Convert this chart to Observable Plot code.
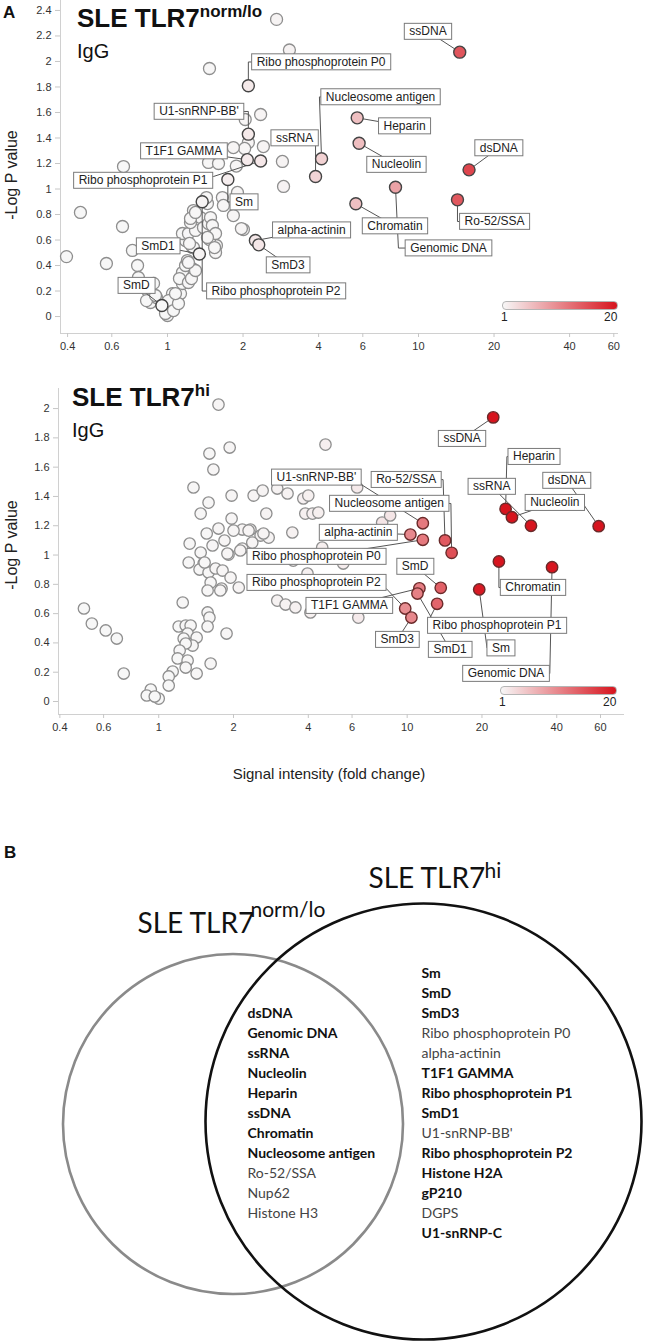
<!DOCTYPE html>
<html><head><meta charset="utf-8">
<script src="https://cdn.jsdelivr.net/npm/d3@7"></script>
<script src="https://cdn.jsdelivr.net/npm/@observablehq/plot@0.6"></script>
<style>
body{margin:0;background:#fff;}
#page{position:relative;width:646px;height:1341px;overflow:hidden;font-family:"Liberation Sans",Arial,sans-serif;color:#111;}
.host{position:absolute;left:0;width:646px;}
.abs{position:absolute;white-space:nowrap;line-height:1;}
.host svg [aria-label^="x-axis"] line,.host svg [aria-label^="y-axis"] line,
.host svg g[aria-label="x-axis tick"],.host svg g[aria-label="y-axis tick"]{stroke:#c6c6c6;}
.bar{position:absolute;height:7px;border:1px solid #b5b5b5;border-radius:4px;}
</style></head><body><div id="page"></div>
<script>
// ---------------- DATA ----------------
const xTicks = [0.4, 0.6, 1, 2, 4, 6, 10, 20, 40, 60];
const topYTicks = [0, 0.2, 0.4, 0.6, 0.8, 1, 1.2, 1.4, 1.6, 1.8, 2, 2.2, 2.4];
const bottomYTicks = [0, 0.2, 0.4, 0.6, 0.8, 1, 1.2, 1.4, 1.6, 1.8, 2];
const colorDomain = [1, 20];

// Panel A top: SLE TLR7 norm/lo, labelled antigens
const topNames = ["Ribo phosphoprotein P0","U1-snRNP-BB'","T1F1 GAMMA","Ribo phosphoprotein P1","Sm","Ribo phosphoprotein P2","SmD1","SmD","alpha-actinin","SmD3","ssRNA","Nucleosome antigen","Heparin","Nucleolin","Chromatin","Genomic DNA","dsDNA","Ro-52/SSA","ssDNA"];
const topFold = [2.10, 2.10, 2.08, 2.35, 1.74, 1.375, 1.34, 0.95, 2.24, 2.31, 3.89, 4.11, 5.70, 5.80, 5.63, 8.10, 15.9, 14.3, 14.6];
const topLogP = [1.81, 1.43, 1.23, 1.22, 1.075, 0.90, 0.49, 0.086, 0.596, 0.562, 1.098, 1.237, 1.558, 1.359, 0.884, 1.014, 1.15, 0.915, 2.073];
// other antigens
const topOtherFold = [2.72,3.06,1.47,2.35,2.04,2.10,2.03,2.41,2.87,2.90,1.457,1.597,0.668,0.45,0.396,0.571,0.662,0.725,0.76,0.766,0.832,0.855,0.904,1.0,1.047,1.096,1.127,1.047,1.147,1.201,1.258,1.147,1.18,1.116,1.201,1.258,1.18,1.147,1.212,1.293,1.354,1.269,1.235,1.391,1.457,1.525,1.567,1.47,1.554,1.443,1.43,1.484,1.51,1.655,1.67,1.83,2.007,1.90,1.97,0.825,0.896,1.009,0.982,1.057,1.106,1.076,1.212,1.246,1.293,1.212,1.269,1.224,1.235,1.293,1.554,1.54,1.443,0.88,1.83,1.88];
const topOtherLogP = [2.33,2.09,1.945,1.584,1.545,1.365,1.318,1.333,1.216,1.02,1.208,1.20,1.176,0.816,0.47,0.416,0.706,0.518,0.40,0.306,0.204,0.11,0.149,0.008,0.047,0.11,0.18,0.18,0.259,0.337,0.376,0.345,0.40,0.298,0.439,0.541,0.596,0.651,0.651,0.675,0.776,0.831,0.737,0.698,0.729,0.651,0.557,0.604,0.502,0.886,0.933,0.776,0.714,0.933,0.871,0.792,0.682,0.973,0.69,0.125,0.165,0.125,0.024,0.047,0.102,0.18,0.267,0.298,0.361,0.424,0.541,0.573,0.769,0.816,0.651,0.541,0.62,0.26,1.325,1.18];

// Panel A bottom: SLE TLR7 hi, labelled antigens
const bottomNames = ["ssDNA","Heparin","Nucleolin","ssRNA","dsDNA","Ro-52/SSA","Nucleosome antigen","U1-snRNP-BB'","alpha-actinin","Ribo phosphoprotein P0","SmD","T1F1 GAMMA","SmD1","Ribo phosphoprotein P1","Ribo phosphoprotein P2","SmD3","Sm","Chromatin","Genomic DNA"];
const bottomFold = [22.2, 24.9, 26.4, 31.5, 59.0, 14.2, 15.1, 11.56, 10.3, 11.56, 13.65, 11.2, 11.0, 13.2, 9.82, 10.4, 19.5, 23.4, 38.3];
const bottomLogP = [1.94, 1.315, 1.258, 1.20, 1.197, 1.10, 1.015, 1.217, 1.14, 1.104, 0.776, 0.773, 0.737, 0.667, 0.635, 0.573, 0.765, 0.956, 0.917];
const bottomOtherFold = [1.74,1.93,1.60,1.66,1.38,1.965,1.587,1.475,1.965,1.74,1.56,1.332,1.647,1.84,1.475,1.91,1.516,1.46,1.587,1.694,1.807,1.946,1.618,1.573,1.79,1.249,0.50,0.538,0.612,0.678,0.723,1.573,1.60,1.573,1.203,1.284,1.344,1.307,1.26,1.421,1.369,1.284,1.214,1.192,1.307,1.284,1.421,1.618,1.875,1.138,1.097,1.097,0.929,0.895,1.0,0.964,4.69,2.41,2.62,3.0,3.3,3.82,4.0,3.89,4.16,4.39,2.71,6.29,2.17,2.34,2.57,2.77,3.45,2.38,2.17,4.55,7.93,8.54,5.53,2.1,3.0,3.24,3.55,4.08,6.36,3.48,3.97,2.13,1.89,1.32,1.53,2.0,2.3,2.64,1.77];
const bottomOtherLogP = [2.027,1.734,1.693,1.584,1.461,1.406,1.358,1.283,1.249,1.181,1.147,1.078,1.065,1.099,1.017,1.003,0.942,0.901,0.881,0.908,0.894,0.846,0.812,0.758,0.771,0.676,0.635,0.532,0.485,0.43,0.191,0.608,0.573,0.512,0.512,0.519,0.519,0.464,0.43,0.437,0.382,0.396,0.348,0.294,0.28,0.232,0.191,0.259,0.464,0.205,0.171,0.109,0.082,0.041,0.02,0.034,1.754,1.406,1.44,1.454,1.42,1.386,1.406,1.283,1.283,1.29,1.283,1.461,1.174,1.174,1.133,1.119,1.154,1.085,1.044,1.051,1.222,1.27,0.942,0.778,0.689,0.662,0.642,0.608,0.573,0.962,0.874,1.031,1.01,0.949,0.949,1.167,1.167,1.147,0.758];

// Panel B: Venn diagram contents
const vennSets = ["SLE TLR7", "SLE TLR7"];
const vennSetSup = ["norm/lo", "hi"];
const sharedAntigens = ["dsDNA","Genomic DNA","ssRNA","Nucleolin","Heparin","ssDNA","Chromatin","Nucleosome antigen","Ro-52/SSA","Nup62","Histone H3"];
const sharedBold = [true,true,true,true,true,true,true,true,false,false,false];
const hiOnlyAntigens = ["Sm","SmD","SmD3","Ribo phosphoprotein P0","alpha-actinin","T1F1 GAMMA","Ribo phosphoprotein P1","SmD1","U1-snRNP-BB'","Ribo phosphoprotein P2","Histone H2A","gP210","DGPS","U1-snRNP-C"];
const hiOnlyBold = [true,true,true,false,false,true,true,true,false,true,true,true,false,true];

// ---------------- LAYOUT (annotation placement, in data units) ----------------
const topLabelLayout = {
  "ssDNA": {lx: 10.91, ly: 2.235},
  "Ribo phosphoprotein P0": {lx: 4.09, ly: 1.996, ex: 2.10, ey: 1.996},
  "U1-snRNP-BB'": {lx: 1.335, ly: 1.608, ex: 2.10, ey: 1.608},
  "T1F1 GAMMA": {lx: 1.163, ly: 1.298},
  "Ribo phosphoprotein P1": {lx: 0.799, ly: 1.067, ex: 1.525, ey: 1.098},
  "Sm": {lx: 2.018, ly: 0.898, ex: 1.74, ey: 0.898},
  "Ribo phosphoprotein P2": {lx: 2.706, ly: 0.20, ex: 1.375, ey: 0.20},
  "SmD1": {lx: 0.917, ly: 0.553},
  "SmD": {lx: 0.752, ly: 0.243},
  "alpha-actinin": {lx: 3.75, ly: 0.678},
  "SmD3": {lx: 3.02, ly: 0.404},
  "ssRNA": {lx: 3.21, ly: 1.40, ex: 3.89, ey: 1.40},
  "Nucleosome antigen": {lx: 7.06, ly: 1.722, ex: 4.03, ey: 1.722},
  "Heparin": {lx: 8.80, ly: 1.494},
  "Nucleolin": {lx: 8.17, ly: 1.192},
  "Chromatin": {lx: 8.06, ly: 0.71},
  "Genomic DNA": {lx: 13.17, ly: 0.537, ex: 8.32, ey: 0.537},
  "dsDNA": {lx: 20.9, ly: 1.322},
  "Ro-52/SSA": {lx: 20.1, ly: 0.745, ex: 14.3, ey: 0.745}
};
const bottomLabelLayout = {
  "ssDNA": {lx: 16.63, ly: 1.795},
  "Heparin": {lx: 32.4, ly: 1.672, ex: 25.2, ey: 1.672},
  "ssRNA": {lx: 21.9, ly: 1.468},
  "Nucleolin": {lx: 39.3, ly: 1.358},
  "dsDNA": {lx: 43.9, ly: 1.509},
  "Ro-52/SSA": {lx: 9.91, ly: 1.515, ex: 13.95, ey: 1.515},
  "Nucleosome antigen": {lx: 8.47, ly: 1.352, ex: 15.0, ey: 1.352},
  "U1-snRNP-BB'": {lx: 4.31, ly: 1.531, ex: 6.54, ey: 1.481},
  "alpha-actinin": {lx: 6.36, ly: 1.154},
  "Ribo phosphoprotein P0": {lx: 4.31, ly: 0.99},
  "SmD": {lx: 10.77, ly: 0.922},
  "Ribo phosphoprotein P2": {lx: 4.31, ly: 0.812, ex: 8.24, ey: 0.771},
  "T1F1 GAMMA": {lx: 5.85, ly: 0.655},
  "SmD3": {lx: 9.12, ly: 0.423},
  "SmD1": {lx: 14.88, ly: 0.355},
  "Ribo phosphoprotein P1": {lx: 22.98, ly: 0.519, ex: 12.37, ey: 0.573},
  "Sm": {lx: 23.85, ly: 0.365, ex: 20.96, ey: 0.365},
  "Chromatin": {lx: 32.1, ly: 0.778, ex: 23.4, ey: 0.778},
  "Genomic DNA": {lx: 25.0, ly: 0.191, ex: 37.5, ey: 0.191}
};

// ---------------- RENDER ----------------
const page = document.getElementById("page");
const colorRange = ["#f7f7f7", "#d7141e"];

function addBoxes(svg) {
  svg.querySelectorAll('g[font-family*="lblbox"] text').forEach(t => {
    const bb = t.getBBox();
    const r = document.createElementNS("http://www.w3.org/2000/svg", "rect");
    r.setAttribute("x", bb.x - 5);
    r.setAttribute("y", bb.y - 1);
    r.setAttribute("width", bb.width + 10);
    r.setAttribute("height", bb.height + 2);
    r.setAttribute("fill", "#fff");
    r.setAttribute("stroke", "#7a7a7a");
    r.setAttribute("stroke-width", "1");
    const tr = t.getAttribute("transform");
    if (tr) r.setAttribute("transform", tr);
    t.parentNode.insertBefore(r, t);
  });
}

function scatter(cfg) {
  const labeled = cfg.names.map((name, i) => ({name, fold: cfg.fold[i], logp: cfg.logp[i], ...cfg.layout[name]}));
  const others = cfg.otherFold.map((f, i) => ({fold: f, logp: cfg.otherLogP[i]}));
  const leaders = labeled.flatMap(d => {
    const p = [{name: d.name, fold: d.fold, logp: d.logp}];
    if (d.ex != null) p.push({name: d.name, fold: d.ex, logp: d.ey});
    p.push({name: d.name, fold: d.lx, logp: d.ly});
    return p;
  });
  const host = document.createElement("div");
  host.className = "host";
  host.style.top = cfg.top + "px";
  page.appendChild(host);
  const innerH = cfg.height - cfg.mt - cfg.mb;
  const y0 = cfg.yDomain[0];
  const tickLen = 4 * (cfg.yDomain[1] - cfg.yDomain[0]) / innerH;
  const plot = Plot.plot({
    width: 646, height: cfg.height,
    marginLeft: cfg.ml, marginRight: cfg.mr, marginTop: cfg.mt, marginBottom: cfg.mb,
    style: {fontFamily: "Liberation Sans, Arial, sans-serif", fontSize: "11px", color: "#333", background: "transparent", overflow: "visible"},
    x: {type: "log", domain: cfg.xDomain, axis: null},
    y: {domain: cfg.yDomain, ticks: cfg.yTicks, tickFormat: d => String(d), tickSize: 5, label: null},
    color: {type: "linear", domain: colorDomain, range: colorRange, clamp: true},
    marks: [
      Plot.ruleX([cfg.xDomain[0]], {stroke: "#d0d0d0"}),
      Plot.ruleY([y0], {stroke: "#d0d0d0"}),
      Plot.ruleX(xTicks, {x: d => d, y1: y0, y2: y0 - tickLen, stroke: "#c6c6c6"}),
      Plot.text(xTicks, {x: d => d, y: y0, dy: 13, text: d => String(d), fill: "#333", fontSize: 11}),
      Plot.dot(others, {x: "fold", y: "logp", r: cfg.r, fill: d => 1 + (d.fold - 1) * 0.2, stroke: "#8e8e8e", strokeWidth: 1.3}),
      Plot.line(leaders, {x: "fold", y: "logp", z: "name", stroke: "#555", strokeWidth: 1, curve: "linear"}),
      Plot.dot(labeled, {x: "fold", y: "logp", r: cfg.r, fill: "fold", stroke: cfg.labStroke, strokeWidth: 1.4}),
      Plot.text(labeled, {x: "lx", y: "ly", text: "name", fontFamily: "Liberation Sans, Arial, lblbox", fontSize: 12, fill: "#222"})
    ]
  });
  host.appendChild(plot);
  addBoxes(plot);
}

scatter({top: 0, height: 352, ml: 60, mr: 28, mt: 0, mb: 19,
  xDomain: [0.3748, 62.64], yDomain: [-0.133, 2.478], yTicks: topYTicks, r: 6,
  names: topNames, fold: topFold, logp: topLogP, otherFold: topOtherFold, otherLogP: topOtherLogP,
  layout: topLabelLayout, labStroke: "#444"});

scatter({top: 380, height: 352, ml: 58, mr: 22, mt: 8, mb: 18,
  xDomain: [0.395, 74.95], yDomain: [-0.0887, 2.137], yTicks: bottomYTicks, r: 5.7,
  names: bottomNames, fold: bottomFold, logp: bottomLogP, otherFold: bottomOtherFold, otherLogP: bottomOtherLogP,
  layout: bottomLabelLayout, labStroke: "#6a2a2a"});

// Venn diagram
const vennHost = document.createElement("div");
vennHost.className = "host";
vennHost.style.top = "840px";
page.appendChild(vennHost);
const vennCircles = [
  {set: vennSets[0] + vennSetSup[0], cx: 232.5, cy: 1123.5, r: 170},
  {set: vennSets[1] + vennSetSup[1], cx: 423, cy: 1121, r: 218}
];
const sharedRows = sharedAntigens.map((name, i) => ({name, bold: sharedBold[i], x: 247, y: 1013.5 + 20 * i}));
const hiRows = hiOnlyAntigens.map((name, i) => ({name, bold: hiOnlyBold[i], x: 421, y: 973 + 20 * i}));
const rows = sharedRows.concat(hiRows);
const titles = [
  {t: vennSets[0], x: 137, y: 924, sup: vennSetSup[0], sx: 250, sy: 910},
  {t: vennSets[1], x: 368, y: 879, sup: vennSetSup[1], sx: 484, sy: 871}
];
const venn = Plot.plot({
  width: 646, height: 501, margin: 0,
  style: {fontFamily: "Lato, 'Open Sans', sans-serif", background: "transparent", overflow: "visible"},
  x: {domain: [0, 646], range: [0, 646], axis: null},
  y: {domain: [840, 1341], range: [0, 501], axis: null},
  r: {type: "identity"},
  marks: [
    Plot.dot([vennCircles[0]], {x: "cx", y: "cy", r: "r", fill: "none", stroke: "#8a8a8a", strokeWidth: 2.6}),
    Plot.dot([vennCircles[1]], {x: "cx", y: "cy", r: "r", fill: "none", stroke: "#111", strokeWidth: 2.6}),
    Plot.text(rows.filter(d => d.bold), {x: "x", y: "y", text: "name", textAnchor: "start", fontSize: 14, fontWeight: "bold", fill: "#111"}),
    Plot.text(rows.filter(d => !d.bold), {x: "x", y: "y", text: "name", textAnchor: "start", fontSize: 14, fill: "#444"}),
    Plot.text(titles, {x: "x", y: "y", text: "t", textAnchor: "start", fontSize: 28, fill: "#111"}),
    Plot.text(titles, {x: "sx", y: "sy", text: "sup", textAnchor: "start", fontSize: 21, fill: "#111"})
  ]
});
vennHost.appendChild(venn);

// ---------------- TEXT OVERLAYS ----------------
function addText(html, css) {
  const d = document.createElement("div");
  d.className = "abs";
  d.innerHTML = html;
  Object.assign(d.style, css);
  page.appendChild(d);
  return d;
}
addText("A", {left: "3px", top: "4px", fontSize: "17px", fontWeight: "bold"});
addText("B", {left: "4px", top: "844px", fontSize: "17px", fontWeight: "bold"});
addText('SLE TLR7<span style="font-size:17px;position:relative;top:-10px">norm/lo</span>', {left: "77px", top: "5px", fontSize: "26px", fontWeight: "bold"});
addText("IgG", {left: "77px", top: "41px", fontSize: "20px"});
addText('SLE TLR7<span style="font-size:17px;position:relative;top:-10px">hi</span>', {left: "72px", top: "384px", fontSize: "26px", fontWeight: "bold"});
addText("IgG", {left: "72px", top: "420px", fontSize: "20px"});
addText("-Log P value", {left: "12px", top: "175px", fontSize: "16px", transform: "translate(-50%,-50%) rotate(-90deg)", color: "#222"});
addText("-Log P value", {left: "12px", top: "545px", fontSize: "16px", transform: "translate(-50%,-50%) rotate(-90deg)", color: "#222"});
addText("Signal intensity (fold change)", {left: "329px", top: "773px", fontSize: "15px", transform: "translate(-50%,-50%)", color: "#222"});

// colour legends (same range as the colour scale)
function legend(left, top, width) {
  const b = document.createElement("div");
  b.className = "bar";
  b.style.left = left + "px"; b.style.top = top + "px"; b.style.width = width + "px";
  b.style.background = `linear-gradient(to right, ${colorRange[0]}, ${colorRange[1]})`;
  page.appendChild(b);
  addText(String(colorDomain[0]), {left: (left - 1) + "px", top: (top + 10) + "px", fontSize: "12px", color: "#222"});
  addText(String(colorDomain[1]), {left: (left + width - 12) + "px", top: (top + 10) + "px", fontSize: "12px", color: "#222"});
}
legend(502, 301, 114);
legend(500, 686, 115);
</script></body></html>
